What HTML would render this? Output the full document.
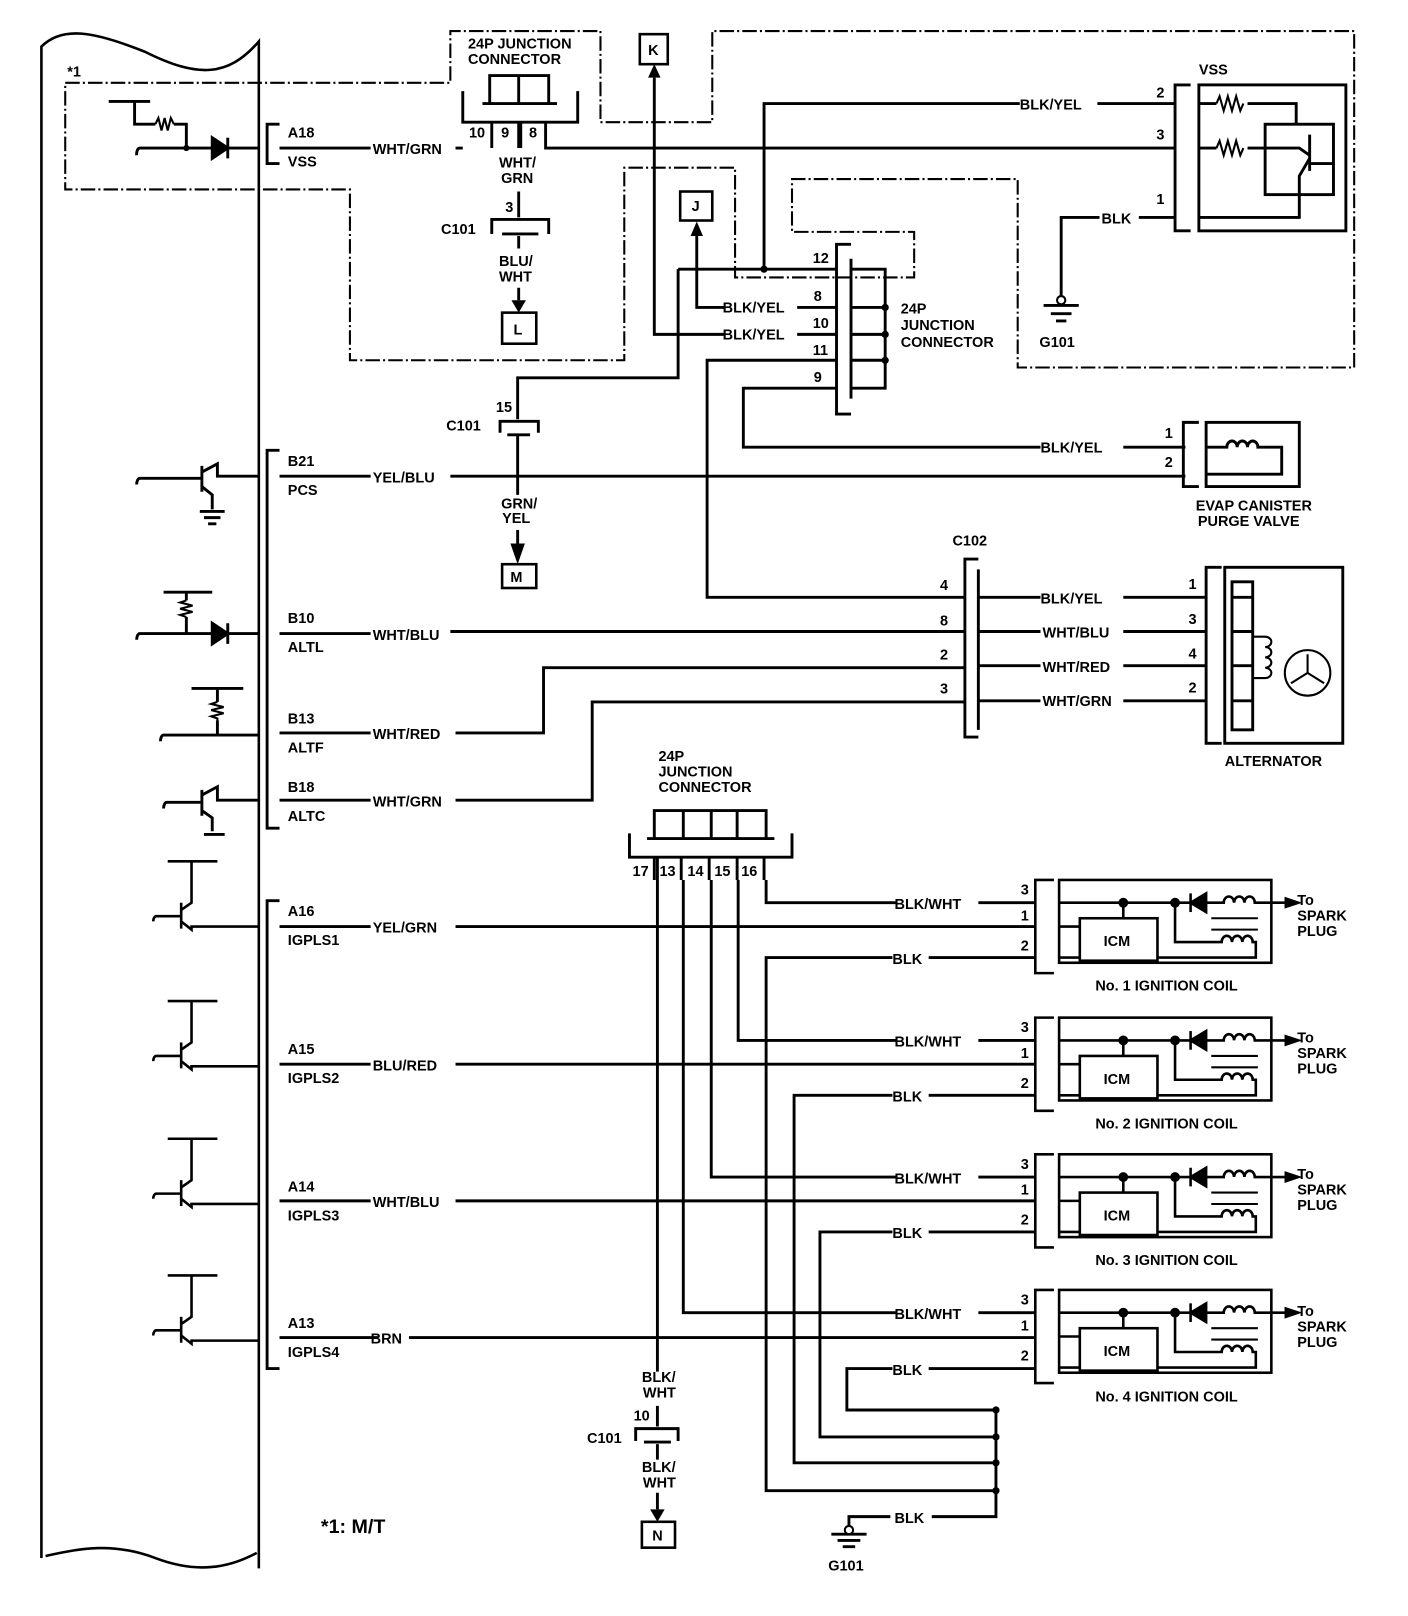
<!DOCTYPE html>
<html><head><meta charset="utf-8"><style>
html,body{margin:0;padding:0;background:#fff;}
svg{display:block;}
text{font-family:"Liberation Sans",sans-serif;font-weight:bold;font-size:14px;fill:#000;}
</style></head><body>
<svg width="1408" height="1616" viewBox="0 0 1360 1561" preserveAspectRatio="none" xmlns="http://www.w3.org/2000/svg">
<defs>
<g id="coil" fill="none" stroke="#000" stroke-width="2.5">
<path d="M1018,-22 H1000 V68 H1018"/>
<rect x="1023" y="-22" width="205" height="80"/>
<path d="M1023,0 H1150"/>
<polygon points="1150,0 1165,-9 1165,9" fill="#000"/>
<path d="M1150,-9 V9"/>
<path d="M1165,0 H1182 a5,6 0 0 1 10,0 a5,6 0 0 1 10,0 a5,6 0 0 1 10,0 H1245"/>
<polygon points="1242,-4 1242,4 1254,0" fill="#000"/>
<path d="M1085,0 V15"/>
<rect x="1043" y="15" width="75" height="41"/>
<path d="M1023,23 H1043 M1023,53 H1043"/>
<path d="M1135,0 V38 H1180 a5,6 0 0 1 10,0 a5,6 0 0 1 10,0 a5,6 0 0 1 10,0 H1213 V53 H1118"/>
<path d="M1170,15 H1215 M1170,26 H1215" stroke-width="2"/>
<circle cx="1085" cy="0" r="3.5" fill="#000"/>
<circle cx="1135" cy="0" r="3.5" fill="#000"/>
</g>
<g id="tr" fill="none" stroke="#000" stroke-width="2.5">
<path d="M162,0 H210 M185,0 V40 L175,47"/>
<path d="M175,40 V65"/>
<path d="M148,58 a3,5 0 0 1 3,-5 H175"/>
<path d="M175,58 L185,66 V63 H250"/>
</g>
</defs>

<g fill="none" stroke="#000" stroke-width="2.5">
<path d="M40,1505 V45 C60,25 90,30 140,50 C190,75 220,75 250,40 V1515"/>
<path d="M44,1503 C80,1495 110,1490 150,1505 C190,1520 220,1515 248,1500"/>
</g>
<path d="M63,80 H435 V30 H580 V118 H688 V30 H1308 V355 H983 V173 H765 V224 H883 V268 H710 V162 H603 V348 H338 V183 H63 Z" fill="none" stroke="#000" stroke-width="2" stroke-dasharray="14,3,2,3"/>

<g fill="none" stroke="#000" stroke-width="2.8">
<path d="M105,98 H145 M130,98 V120 H150 M168,120 H180 V143 M132,150 a3,6 0 0 1 3,-7 H250"/>
<path d="M150,120 l3,-6 l3,12 l3,-12 l3,12 l3,-12 l3,6" stroke-width="2"/>
<polygon points="205,133 205,153 220,143" fill="#000"/>
<path d="M220,133 V153"/>
<path d="M270,120 H258 V158 H270"/>
<path d="M270,143 H358 M440,143 H447"/>
<path d="M473,100 V73 H530 V100 M501,73 V100 M466,100 H538 M447,88 V118 H558 V88"/>
<path d="M475,118 V143 M503,118 V143"/>
<path d="M527,118 V143 H1135"/>
<path d="M501,118 V143 M501,185 V210"/>
<path d="M475,226 V212 H530 V226 M485,226 H520 M501,228 V240 M501,278 V290"/>
<rect x="485" y="302" width="33" height="30" stroke-width="2.5"/>
<rect x="618" y="33" width="27" height="29" stroke-width="2.5"/>
<path d="M632,75 V323 H700 M770,323 H808"/>
<rect x="657" y="185" width="31" height="28" stroke-width="2.5"/>
<path d="M673,228 V297 H700 M770,297 H808"/>
<path d="M822,236 H808 V400 H822 M822,250 V385"/>
<path d="M822,260 H855 V375 H822 M822,297 H855 M822,323 H855 M822,348 H855"/>
<path d="M655,260 H808 M738,260 V100 H985 M1060,100 H1135"/>
<path d="M655,260 V365 H500 V405"/>
<path d="M483,418 V407 H520 V418 M490,420 H512 M500,420 V478 M500,512 V525"/>
<rect x="485" y="545" width="33" height="23" stroke-width="2.5"/>
<path d="M808,348 H683 V577 H932"/>
<path d="M808,375 H718 V432 H1005 M1085,432 H1145"/>
<path d="M1150,82 H1135 V223 H1150"/>
<rect x="1158" y="82" width="142" height="141"/>
<path d="M1158,100 H1175 M1205,100 H1252 V120 M1158,143 H1175 M1205,143 H1255 L1265,150 M1265,130 V165 M1265,158 H1288 M1265,153 L1255,170 V210 H1158"/>
<path d="M1175,100 l3,-7 l4,14 l4,-14 l4,14 l4,-14 l4,14 l3,-7 M1175,143 l3,-7 l4,14 l4,-14 l4,14 l4,-14 l4,14 l3,-7" stroke-width="2"/>
<rect x="1222" y="120" width="66" height="68"/>
<path d="M1135,210 H1100 M1062,210 H1025 V290"/>
<path d="M1008,295 H1042 M1015,303 H1035 M1020,310 H1030"/>
<path d="M1158,408 H1143 V470 H1158"/>
<rect x="1165" y="408" width="90" height="62"/>
<path d="M1165,432 H1185 a5,6 0 0 1 10,0 a5,6 0 0 1 10,0 a5,6 0 0 1 10,0 H1238 V458 H1165"/>
<path d="M270,435 H258 V800 H270"/>
<path d="M132,468 a3,6 0 0 1 3,-6 H195 M195,450 V475 M195,456 L210,448 V460 H250 M195,470 L205,478 V492 M193,494 H217 M197,500 H213 M201,506 H209"/>
<path d="M270,460 H358 M435,460 H1145"/>
<path d="M945,540 H932 V712 H945 M945,550 V705"/>
<path d="M945,577 H1005 M1085,577 H1165 M945,610 H1005 M1085,610 H1165 M945,643 H1005 M1085,643 H1165 M945,677 H1005 M1085,677 H1165"/>
<path d="M1180,548 H1165 V718 H1180"/>
<rect x="1183" y="548" width="114" height="170"/>
<rect x="1190" y="562" width="20" height="143"/>
<path d="M1210,577 H1190 M1210,610 H1190 M1210,643 H1190 M1210,677 H1190"/>
<path d="M1210,615 H1222 a6,5 0 0 1 0,10 a6,5 0 0 1 0,10 a6,5 0 0 1 0,10 a6,5 0 0 1 0,10 H1210" stroke-width="2"/>
<circle cx="1263" cy="650" r="22" stroke-width="2"/>
<path d="M1263,650 V632 M1263,650 L1247,660 M1263,650 L1279,660" stroke-width="2"/>
<path d="M158,572 H205 M180,572 V580 M180,596 V612 M132,618 a3,6 0 0 1 3,-6 H250"/>
<path d="M180,580 l-6,2 l12,3 l-12,3 l12,3 l-12,3 l6,2" stroke-width="2"/>
<polygon points="205,602 205,622 220,612" fill="#000"/>
<path d="M220,602 V622 M270,612 H358 M435,610 H932"/>
<path d="M185,665 H235 M210,665 V678 M210,696 V710 M155,716 a3,6 0 0 1 3,-6 H250 M270,708 H358 M440,708 H525 V645 H932"/>
<path d="M210,678 l-6,2 l12,3 l-12,3 l12,3 l-12,3 l6,2 V696" stroke-width="2"/>
<path d="M158,781 a3,6 0 0 1 3,-6 H195 M195,763 V788 M195,768 L210,760 V773 H250 M195,783 L205,790 V803 M197,806 H217"/>
<path d="M270,773 H358 M440,773 H572 V678 H932"/>
<path d="M632,810 V783 H740 V810 M660,783 V810 M687,783 V810 M712,783 V810 M625,810 H748 M608,805 V828 H765 V805"/>
<path d="M632,828 V850 M658,828 V850 M685,828 V850 M712,828 V850 M738,828 V850"/>
<path d="M635,828 V1325 M635,1358 V1378 M614,1392 V1380 H655 V1392 M622,1393 H648 M635,1395 V1410 M635,1442 V1458"/>
<rect x="620" y="1470" width="32" height="25" stroke-width="2.5"/>
<path d="M660,850 V1268 H865 M945,1268 H1000"/>
<path d="M687,850 V1137 H865 M945,1137 H1000"/>
<path d="M713,850 V1005 H865 M945,1005 H1000"/>
<path d="M740,850 V872 H865 M945,872 H1000"/>
<path d="M270,870 H258 V1322 H270"/>
<path d="M270,895 H358 M440,895 H1000 M270,1028 H358 M440,1028 H1000 M270,1160 H358 M440,1160 H1000 M270,1292 H365 M395,1292 H1000"/>
<path d="M1000,925 H897 M862,925 H740 V1440 H962"/>
<path d="M1000,1058 H897 M862,1058 H767 V1413 H962"/>
<path d="M1000,1190 H897 M862,1190 H792 V1388 H962"/>
<path d="M1000,1322 H897 M862,1322 H818 V1362 H962"/>
<path d="M962,1362 V1465 H900 M860,1465 H820 V1478 M803,1482 H837 M809,1488 H831 M814,1494 H826"/>
</g>
<g fill="#000">
<circle cx="738" cy="260" r="3.5"/><circle cx="855" cy="297" r="3.5"/><circle cx="855" cy="323" r="3.5"/><circle cx="855" cy="348" r="3.5"/>
<circle cx="180" cy="143" r="3"/>
<circle cx="962" cy="1388" r="3.5"/><circle cx="962" cy="1413" r="3.5"/><circle cx="962" cy="1440" r="3.5"/><circle cx="962" cy="1362" r="3.5"/>
<polygon points="626,75 638,75 632,62"/>
<polygon points="667,228 679,228 673,214"/>
<polygon points="494,290 508,290 501,302"/>
<polygon points="493,525 507,525 500,545"/>
<polygon points="628,1458 642,1458 635,1470"/>
</g>
<circle cx="1025" cy="290" r="4" fill="#fff" stroke="#000" stroke-width="2"/>
<circle cx="820" cy="1478" r="4" fill="#fff" stroke="#000" stroke-width="2"/>

<use href="#coil" transform="translate(0,872)"/>
<use href="#coil" transform="translate(0,1005)"/>
<use href="#coil" transform="translate(0,1137)"/>
<use href="#coil" transform="translate(0,1268)"/>
<use href="#tr" transform="translate(0,832)"/>
<use href="#tr" transform="translate(0,967)"/>
<use href="#tr" transform="translate(0,1100)"/>
<use href="#tr" transform="translate(0,1232)"/>

<text x="65" y="74">*1</text>
<text x="278" y="133">A18</text><text x="278" y="161">VSS</text>
<text x="360" y="149">WHT/GRN</text>
<text x="452" y="47">24P JUNCTION</text><text x="452" y="62">CONNECTOR</text>
<text x="453" y="133">10</text><text x="484" y="133">9</text><text x="511" y="133">8</text>
<text x="482" y="162">WHT/</text><text x="484" y="177">GRN</text>
<text x="488" y="205">3</text><text x="426" y="226">C101</text>
<text x="482" y="257">BLU/</text><text x="482" y="272">WHT</text>
<text x="496" y="323">L</text>
<text x="626" y="53">K</text><text x="668" y="204">J</text>
<text x="698" y="302">BLK/YEL</text><text x="698" y="328">BLK/YEL</text>
<text x="785" y="254">12</text><text x="786" y="291">8</text><text x="785" y="317">10</text><text x="785" y="343">11</text><text x="786" y="369">9</text>
<text x="870" y="303">24P</text><text x="870" y="319">JUNCTION</text><text x="870" y="335">CONNECTOR</text>
<text x="985" y="106">BLK/YEL</text><text x="1117" y="94">2</text><text x="1117" y="135">3</text><text x="1117" y="197">1</text>
<text x="1158" y="72">VSS</text>
<text x="1064" y="216">BLK</text><text x="1004" y="335">G101</text>
<text x="479" y="398">15</text><text x="431" y="416">C101</text>
<text x="484" y="491">GRN/</text><text x="485" y="505">YEL</text>
<text x="493" y="562">M</text>
<text x="278" y="450">B21</text><text x="278" y="478">PCS</text><text x="360" y="466">YEL/BLU</text>
<text x="1005" y="437">BLK/YEL</text><text x="1125" y="423">1</text><text x="1125" y="451">2</text>
<text x="1155" y="493">EVAP CANISTER</text><text x="1157" y="508">PURGE VALVE</text>
<text x="920" y="527">C102</text>
<text x="908" y="570">4</text><text x="908" y="604">8</text><text x="908" y="637">2</text><text x="908" y="670">3</text>
<text x="1005" y="583">BLK/YEL</text><text x="1007" y="616">WHT/BLU</text><text x="1007" y="649">WHT/RED</text><text x="1007" y="682">WHT/GRN</text>
<text x="1148" y="569">1</text><text x="1148" y="603">3</text><text x="1148" y="636">4</text><text x="1148" y="669">2</text>
<text x="1183" y="740">ALTERNATOR</text>
<text x="278" y="602">B10</text><text x="278" y="630">ALTL</text><text x="360" y="618">WHT/BLU</text>
<text x="278" y="699">B13</text><text x="278" y="727">ALTF</text><text x="360" y="714">WHT/RED</text>
<text x="278" y="765">B18</text><text x="278" y="793">ALTC</text><text x="360" y="779">WHT/GRN</text>
<text x="636" y="735">24P</text><text x="636" y="750">JUNCTION</text><text x="636" y="765">CONNECTOR</text>
<text x="611" y="846">17</text><text x="637" y="846">13</text><text x="664" y="846">14</text><text x="690" y="846">15</text><text x="716" y="846">16</text>
<text x="278" y="885">A16</text><text x="278" y="913">IGPLS1</text><text x="360" y="901">YEL/GRN</text>
<text x="278" y="1018">A15</text><text x="278" y="1046">IGPLS2</text><text x="360" y="1034">BLU/RED</text>
<text x="278" y="1151">A14</text><text x="278" y="1179">IGPLS3</text><text x="360" y="1166">WHT/BLU</text>
<text x="278" y="1283">A13</text><text x="278" y="1311">IGPLS4</text><text x="358" y="1298">BRN</text>
<text x="864" y="878">BLK/WHT</text><text x="864" y="1011">BLK/WHT</text><text x="864" y="1143">BLK/WHT</text><text x="864" y="1274">BLK/WHT</text>
<text x="862" y="931">BLK</text><text x="862" y="1064">BLK</text><text x="862" y="1196">BLK</text><text x="862" y="1328">BLK</text>
<text x="986" y="864">3</text><text x="986" y="889">1</text><text x="986" y="918">2</text>
<text x="986" y="997">3</text><text x="986" y="1022">1</text><text x="986" y="1051">2</text>
<text x="986" y="1129">3</text><text x="986" y="1154">1</text><text x="986" y="1183">2</text>
<text x="986" y="1260">3</text><text x="986" y="1285">1</text><text x="986" y="1314">2</text>
<text x="1066" y="914">ICM</text><text x="1066" y="1047">ICM</text><text x="1066" y="1179">ICM</text><text x="1066" y="1310">ICM</text>
<text x="1058" y="957">No. 1 IGNITION COIL</text><text x="1058" y="1090">No. 2 IGNITION COIL</text><text x="1058" y="1222">No. 3 IGNITION COIL</text><text x="1058" y="1354">No. 4 IGNITION COIL</text>
<text x="1253" y="874">To</text><text x="1253" y="889">SPARK</text><text x="1253" y="904">PLUG</text>
<text x="1253" y="1007">To</text><text x="1253" y="1022">SPARK</text><text x="1253" y="1037">PLUG</text>
<text x="1253" y="1139">To</text><text x="1253" y="1154">SPARK</text><text x="1253" y="1169">PLUG</text>
<text x="1253" y="1271">To</text><text x="1253" y="1286">SPARK</text><text x="1253" y="1301">PLUG</text>
<text x="620" y="1335">BLK/</text><text x="621" y="1350">WHT</text><text x="612" y="1372">10</text><text x="567" y="1394">C101</text>
<text x="620" y="1422">BLK/</text><text x="621" y="1437">WHT</text><text x="630" y="1488">N</text>
<text x="864" y="1471">BLK</text><text x="800" y="1517">G101</text>
<text x="310" y="1481" style="font-size:19px">*1: M/T</text>
</svg>
</body></html>
